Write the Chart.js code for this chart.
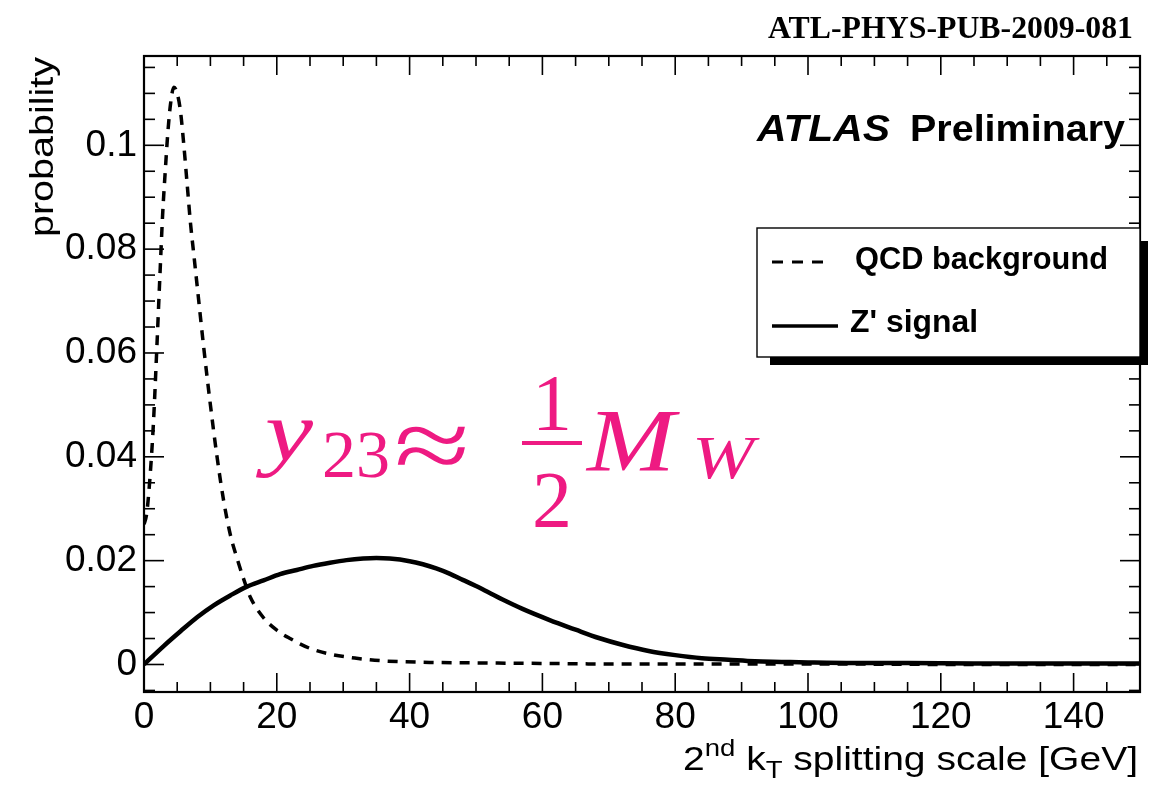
<!DOCTYPE html>
<html>
<head>
<meta charset="utf-8">
<script src="https://cdn.jsdelivr.net/npm/chart.js@4.4.1/dist/chart.umd.min.js"></script>
<style>
  html, body { margin: 0; padding: 0; background: #fff; }
  #wrap { width: 1151px; height: 787px; position: relative; }
</style>
</head>
<body>
<div id="wrap"><canvas id="kt"></canvas></div>
<script>
// 2nd kT splitting scale, normalised distributions
const qcdX = [0, 0.4, 0.9, 1.4, 1.9, 2.4, 2.8, 3.2, 3.6, 4.0, 4.5, 5.0, 5.5, 6.0, 6.5, 7.0, 7.5, 8.0, 9.0, 10.0,
              11.0, 12.0, 13.0, 14.0, 15.0, 16.0, 18.0, 20.0, 22.0, 25.0, 28.0, 32.0, 36.0, 43.0, 50.0, 60.0, 70.0,
              80.0, 100.0, 125.0, 150.0];
const qcdY = [0.027, 0.029, 0.036, 0.046, 0.060, 0.075, 0.0865, 0.095, 0.1026, 0.108, 0.1112, 0.110, 0.1065, 0.100,
              0.0925, 0.085, 0.079, 0.073, 0.061, 0.050, 0.040, 0.0315, 0.025, 0.0205, 0.0165, 0.013, 0.0090, 0.0066,
              0.0050, 0.0031, 0.0020, 0.0012, 0.0007, 0.0004, 0.0003, 0.0002, 0.0001, 0.0001, 0.0001, 0.0, 0.0];

const sigX = [0, 3, 5.5, 8, 10.5, 13, 15.5, 18, 20.5, 23, 25.5, 28, 30.5, 33, 35, 37, 40, 42, 44, 46, 48, 50,
              52, 54, 57, 61, 65, 68.5, 72, 76, 80, 84, 88, 92, 96, 100, 107, 115, 125, 140, 150];
const sigY = [0, 0.0036, 0.0064, 0.0091, 0.0114, 0.0133, 0.0150, 0.0162, 0.0174, 0.0182, 0.0190, 0.0196,
              0.0201, 0.0204, 0.0205, 0.0204, 0.0199, 0.0193, 0.0185, 0.0175, 0.0163, 0.0151, 0.0138, 0.0125,
              0.0107, 0.0086, 0.0067, 0.0051, 0.0038, 0.0026, 0.0018, 0.0012, 0.0009, 0.0006, 0.0005, 0.0004,
              0.0003, 0.0003, 0.0002, 0.0002, 0.0002];

const seriesNames = ['QCD background', "Z' signal"];

// axis ranges and tick spacing
const xRange = [0, 150];
const yRange = [-0.0053, 0.1172];
const xMajor = 20, xMinor = 5;
const yMajor = 0.02, yMinor = 0.005;

const W = 1151, H = 787;
const frame = { left: 144, right: 1140, top: 56, bottom: 692 };
const pink = '#ee1a82';
const sans = '"Liberation Sans", Arial, sans-serif';
const serif = '"Liberation Serif", "Times New Roman", serif';

const isMajor = (v, step) => Math.abs(v / step - Math.round(v / step)) < 1e-6;

function stepTicks(lo, hi, step) {
  const out = [];
  const start = Math.ceil(lo / step - 1e-9);
  for (let i = start; i * step <= hi + 1e-9; i++) out.push({ value: +(i * step).toFixed(6) });
  return out;
}

function line(ctx, x1, y1, x2, y2) {
  ctx.beginPath();
  ctx.moveTo(x1, y1);
  ctx.lineTo(x2, y2);
  ctx.stroke();
}

// text squeezed/stretched to a given width, like the PostScript output
function fillWide(ctx, text, x, y, width) {
  const w = ctx.measureText(text).width;
  ctx.save();
  ctx.translate(x, y);
  ctx.scale(width / w, 1);
  ctx.fillText(text, 0, 0);
  ctx.restore();
}

// inward ticks on all four sides plus the frame
const rootFrame = {
  id: 'rootFrame',
  afterDatasetsDraw(chart) {
    const { ctx, chartArea: a, scales: { x, y } } = chart;
    ctx.save();
    ctx.strokeStyle = '#000';
    ctx.lineWidth = 1.6;
    x.ticks.forEach(t => {
      const px = x.getPixelForValue(t.value);
      const len = isMajor(t.value, xMajor) ? 19 : 10;
      line(ctx, px, a.bottom, px, a.bottom - len);
      line(ctx, px, a.top, px, a.top + len);
    });
    y.ticks.forEach(t => {
      const py = y.getPixelForValue(t.value);
      const len = isMajor(t.value, yMajor) ? 20 : 11;
      line(ctx, a.left, py, a.left + len, py);
      line(ctx, a.right, py, a.right - len, py);
    });
    ctx.lineWidth = 2.2;
    ctx.strokeRect(a.left, a.top, a.right - a.left, a.bottom - a.top);
    ctx.restore();
  }
};

// axis titles, labels, legend box and the formula
const decorations = {
  id: 'decorations',
  afterDraw(chart) {
    const ctx = chart.ctx;
    ctx.save();
    ctx.fillStyle = '#000';
    ctx.textBaseline = 'alphabetic';

    // document tag
    ctx.font = 'bold 31px ' + serif;
    ctx.textAlign = 'left';
    fillWide(ctx, 'ATL-PHYS-PUB-2009-081', 768, 38, 365);

    // y title
    ctx.font = '33px ' + sans;
    ctx.save();
    ctx.translate(53, 57);
    ctx.rotate(-Math.PI / 2);
    fillWide(ctx, 'probability', -180, 0, 180);
    ctx.restore();

    // x title, built left to right: 2^{nd} k_{T} splitting scale [GeV]
    const big = '34px ' + sans, small = '24px ' + sans;
    const parts = [
      { t: '2', f: big, dy: 0 },
      { t: 'nd', f: small, dy: -14 },
      { t: ' k', f: big, dy: 0 },
      { t: 'T', f: small, dy: 8 },
      { t: ' splitting scale [GeV]', f: big, dy: 0 }
    ];
    let total = 0;
    parts.forEach(p => { ctx.font = p.f; p.w = ctx.measureText(p.t).width; total += p.w; });
    const sx = 455 / total;
    let cx = 683;
    parts.forEach(p => {
      ctx.font = p.f;
      ctx.save();
      ctx.translate(cx, 770 + p.dy);
      ctx.scale(sx, 1);
      ctx.fillText(p.t, 0, 0);
      ctx.restore();
      cx += p.w * sx;
    });

    // ATLAS Preliminary
    ctx.font = 'italic bold 37px ' + sans;
    fillWide(ctx, 'ATLAS', 757, 141, 133);
    ctx.font = 'bold 37px ' + sans;
    fillWide(ctx, 'Preliminary', 910, 141, 215);

    // legend with drop shadow
    const lg = { x: 757, y: 228, w: 383, h: 129 };
    ctx.fillRect(lg.x + 13, lg.y + 13, lg.w - 5, lg.h - 5);
    ctx.fillStyle = '#fff';
    ctx.fillRect(lg.x, lg.y, lg.w, lg.h);
    ctx.strokeStyle = '#000';
    ctx.lineWidth = 1.4;
    ctx.strokeRect(lg.x, lg.y, lg.w, lg.h);
    ctx.fillStyle = '#000';
    ctx.lineWidth = 3;
    ctx.setLineDash([11, 9]);
    line(ctx, 772, 262, 830, 262);
    ctx.setLineDash([]);
    ctx.lineWidth = 3.5;
    line(ctx, 772, 326, 838, 326);
    ctx.font = 'bold 31px ' + sans;
    fillWide(ctx, seriesNames[0], 855, 269, 253);
    fillWide(ctx, seriesNames[1], 850, 332, 128);

    // y_{23} ≈ (1/2) M_W
    ctx.fillStyle = pink;
    ctx.font = 'italic 84px ' + serif;
    fillWide(ctx, 'y', 265, 460, 48);
    ctx.font = '68px ' + serif;
    ctx.fillText('23', 322, 477);
    ctx.font = '104px ' + serif;
    fillWide(ctx, '\u2248', 394, 480, 76);
    ctx.font = '80px ' + serif;
    ctx.textAlign = 'center';
    ctx.fillText('1', 552, 430);
    ctx.fillText('2', 552, 527);
    ctx.fillRect(522, 441, 60, 4);
    ctx.textAlign = 'left';
    ctx.font = 'italic 88px ' + serif;
    fillWide(ctx, 'M', 587, 470, 88);
    ctx.font = 'italic 62px ' + serif;
    fillWide(ctx, 'W', 692, 478, 62);

    ctx.restore();
  }
};

const toPoints = (xs, ys) => xs.map((x, i) => ({ x, y: ys[i] }));

new Chart(document.getElementById('kt'), {
  type: 'line',
  data: {
    datasets: [
      {
        label: seriesNames[0],
        data: toPoints(qcdX, qcdY),
        borderColor: '#000',
        borderWidth: 3.5,
        borderDash: [10, 8],
        pointRadius: 0,
        cubicInterpolationMode: 'monotone',
        fill: false
      },
      {
        label: seriesNames[1],
        data: toPoints(sigX, sigY),
        borderColor: '#000',
        borderWidth: 4.5,
        pointRadius: 0,
        cubicInterpolationMode: 'monotone',
        fill: false
      }
    ]
  },
  options: {
    responsive: true,
    maintainAspectRatio: false,
    animation: false,
    layout: { padding: { left: 0, top: frame.top, right: W - frame.right, bottom: 0 } },
    plugins: {
      legend: { display: false },
      tooltip: { enabled: false }
    },
    scales: {
      x: {
        type: 'linear',
        min: xRange[0],
        max: xRange[1],
        afterBuildTicks: s => { s.ticks = stepTicks(xRange[0], xRange[1], xMinor); },
        afterFit: s => { s.height = H - frame.bottom; },
        grid: { display: false, drawTicks: false },
        border: { display: false },
        ticks: {
          autoSkip: false,
          maxRotation: 0,
          padding: 4,
          color: '#000',
          font: { family: sans, size: 37 },
          callback: v => isMajor(v, xMajor) ? String(Math.round(v)) : ''
        }
      },
      y: {
        type: 'linear',
        min: yRange[0],
        max: yRange[1],
        afterBuildTicks: s => { s.ticks = stepTicks(yRange[0], yRange[1], yMinor); },
        afterFit: s => { s.width = frame.left; },
        grid: { display: false, drawTicks: false },
        border: { display: false },
        ticks: {
          autoSkip: false,
          padding: 7,
          color: '#000',
          font: { family: sans, size: 37 },
          callback: v => isMajor(v, yMajor) ? String(+v.toFixed(3)) : ''
        }
      }
    }
  },
  plugins: [rootFrame, decorations]
});
</script>
</body>
</html>
